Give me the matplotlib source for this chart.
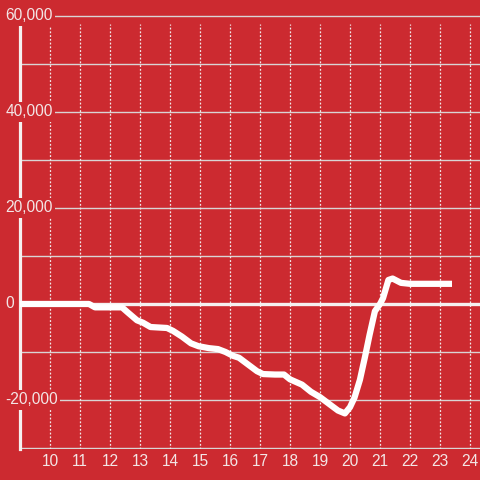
import matplotlib
matplotlib.use('Agg')
import matplotlib.pyplot as plt
import matplotlib.transforms as mtransforms

plt.rcParams['font.family'] = ['Liberation Sans', 'DejaVu Sans']

# hours of the day and the running value
hours = [9.0, 11.3, 11.5, 12.4, 12.6, 12.9, 13.1, 13.35, 13.9, 14.1, 14.4, 14.7,
         14.95, 15.3, 15.6, 15.85, 16.1, 16.3, 16.6, 16.9, 17.1, 17.5, 17.8, 18.0,
         18.4, 18.7, 19.0, 19.3, 19.6, 19.83, 20.0, 20.15, 20.33, 20.5, 20.65,
         20.83, 21.0, 21.1, 21.28, 21.42, 21.7, 22.0, 23.4]
values = [0, 0, -700, -700, -1800, -3400, -3900, -4800, -5000, -5600, -6800, -8200,
          -8800, -9200, -9400, -10000, -10800, -11200, -12600, -14000, -14600, -14700,
          -14700, -15700, -16800, -18300, -19400, -20800, -22200, -22800, -21500,
          -19500, -15800, -11000, -6500, -1500, 0, 1200, 5000, 5300, 4400, 4200, 4200]

xticks = list(range(10, 25))
ygrid = list(range(-30000, 60001, 10000))
ylab_vals = [60000, 40000, 20000, 0, -20000]
ylab_text = ['60,000', '40,000', '20,000', '0', '-20,000']

red = '#cc2a30'
txt = '#f3e6e6'

fig = plt.figure(figsize=(4.8, 4.8), dpi=100, facecolor=red)
ax = fig.add_axes([20/480, 0.0637, 460/480, 0.906])
ax.set_facecolor(red)
ax.set_xlim(9, 24.333)
ax.set_ylim(-30300, 60300)

for s in ax.spines.values():
    s.set_visible(False)

ax.set_yticks(ygrid)
ax.tick_params(axis='y', labelleft=False, length=0)
ax.grid(axis='y', color='#d9d4d4', lw=1)
ax.set_axisbelow(True)

ax.set_xticks(xticks)
ax.tick_params(axis='x', length=0, pad=3, labelcolor=txt, labelsize=11.2)

for h in xticks:
    ax.axvline(h, ymax=0.978, color='#f0e8e8', lw=0.9, ls=(0, (1.5, 1.5)), zorder=0.8)

ax.axvline(9, ymax=0.978, color='#f5f0f0', lw=2.3, zorder=1.5, clip_on=False)
ax.axhline(0, color='#f5f0f0', lw=2.4, zorder=1.6)

ax.plot(hours, values, color='white', lw=4.5, solid_capstyle='butt',
        solid_joinstyle='round', zorder=3)

tr = mtransforms.blended_transform_factory(ax.transAxes, ax.transData)
for v, t in zip(ylab_vals, ylab_text):
    ax.text(-0.031, v, t, transform=tr, ha='left', va='center', fontsize=11.2,
            color=txt, zorder=6, clip_on=False,
            bbox=dict(facecolor=red, edgecolor='none', pad=1.5))

fig.savefig('out.png', dpi=100, facecolor=red)
